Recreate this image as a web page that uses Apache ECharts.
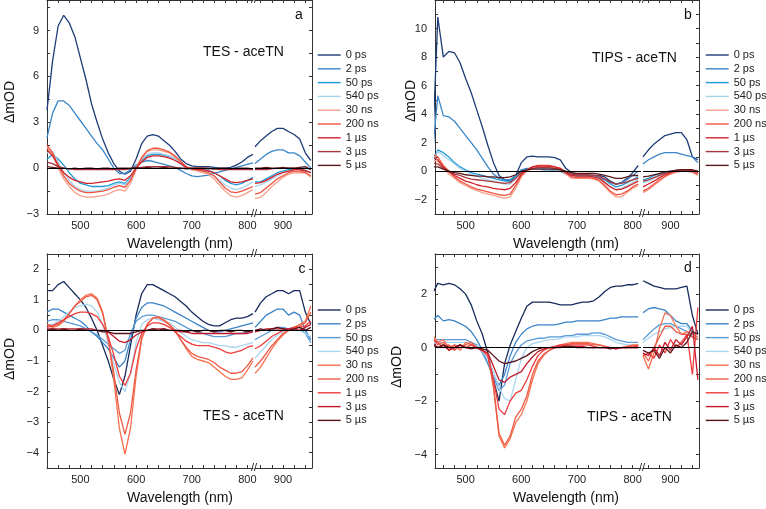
<!DOCTYPE html>
<html>
<head>
<meta charset="utf-8">
<script src="https://cdn.jsdelivr.net/npm/echarts@6.0.0/dist/echarts.min.js"></script>
<style>
  html, body { margin: 0; padding: 0; background: #fff; }
  #chart { width: 766px; height: 509px; }
</style>
</head>
<body>
<div id="chart"></div>
<script>
// ------------------------------------------------------------
// Data
// ------------------------------------------------------------

// wavelengths (nm) of the visible part and of the near-IR part (after the axis break)
var wlLeft = [440, 450, 460, 470, 480, 490, 500, 510, 520, 530, 540, 550, 560, 570, 580, 590, 600, 610, 620,
  630, 640, 650, 660, 670, 680, 690, 700, 710, 720, 730, 740, 750, 760, 770, 780, 790, 800, 810];
var wlRight = [850, 860, 870, 880, 890, 900, 910, 920, 930, 940, 950];

var delays = ["0 ps", "2 ps", "50 ps", "540 ps", "30 ns", "200 ns", "1 \u00b5s", "3 \u00b5s", "5 \u00b5s"];

// tick labels
var xLabelsLeft = [500, 600, 700, 800];
var xLabelsRight = [900];
var yLabelsA = [-3, 0, 3, 6, 9];
var yLabelsB = [-2, 0, 2, 4, 6, 8, 10];
var yLabelsC = [-4, -3, -2, -1, 0, 1, 2];
var yLabelsD = [-4, -2, 0, 2];

// panel a : TES - aceTN (one row per delay)
var aLeft = [
  [3.8, 7.0, 9.3, 10.0, 9.5, 8.6, 7.2, 5.8, 4.2, 3.0, 1.9, 1.0, 0.3, -0.2, -0.4, -0.2, 0.6, 1.6, 2.1, 2.2, 2.1, 1.8, 1.5, 1.1, 0.6, 0.3, 0.15, 0.1, 0.1, 0.1, 0.05, 0.0, 0.0, 0.05, 0.2, 0.4, 0.7, 0.9],
  [2.0, 3.6, 4.4, 4.4, 4.1, 3.6, 3.1, 2.6, 2.1, 1.6, 1.2, 0.6, 0.0, -0.35, -0.35, -0.1, 0.2, 0.4, 0.5, 0.45, 0.35, 0.25, 0.15, 0.05, -0.15, -0.35, -0.5, -0.55, -0.5, -0.45, -0.35, -0.25, -0.15, -0.05, 0.05, 0.15, 0.25, 0.35],
  [0.6, 0.9, 0.6, 0.2, -0.3, -0.7, -1.0, -1.1, -1.2, -1.2, -1.2, -1.15, -1.0, -0.9, -1.0, -0.6, 0.0, 0.5, 0.8, 0.9, 0.9, 0.85, 0.75, 0.6, 0.3, 0.0, -0.1, -0.1, -0.1, -0.15, -0.3, -0.5, -0.8, -1.0, -1.1, -1.0, -0.8, -0.6],
  [1.0, 1.1, 0.4, -0.3, -0.8, -1.2, -1.4, -1.5, -1.5, -1.5, -1.4, -1.3, -1.1, -1.0, -1.1, -0.7, 0.1, 0.6, 0.9, 1.0, 1.0, 0.9, 0.8, 0.6, 0.3, 0.05, -0.1, -0.15, -0.2, -0.3, -0.5, -0.8, -1.1, -1.3, -1.4, -1.3, -1.1, -0.9],
  [1.4, 0.9, 0.0, -0.7, -1.2, -1.6, -1.8, -1.9, -1.9, -1.85, -1.8, -1.7, -1.5, -1.4, -1.5, -1.0, -0.1, 0.6, 1.1, 1.2, 1.2, 1.1, 1.0, 0.7, 0.4, 0.05, -0.1, -0.2, -0.3, -0.4, -0.7, -1.1, -1.5, -1.8, -1.9, -1.8, -1.6, -1.4],
  [1.5, 1.0, 0.2, -0.5, -1.0, -1.3, -1.5, -1.6, -1.6, -1.55, -1.5, -1.4, -1.25, -1.15, -1.25, -0.8, 0.0, 0.7, 1.15, 1.3, 1.3, 1.2, 1.05, 0.8, 0.45, 0.1, -0.05, -0.1, -0.2, -0.3, -0.5, -0.9, -1.3, -1.55, -1.6, -1.5, -1.35, -1.2],
  [1.2, 0.8, 0.2, -0.3, -0.6, -0.8, -0.9, -1.0, -1.0, -0.95, -0.9, -0.85, -0.75, -0.7, -0.8, -0.5, 0.0, 0.4, 0.7, 0.8, 0.8, 0.75, 0.65, 0.5, 0.3, 0.05, -0.05, -0.1, -0.1, -0.2, -0.3, -0.5, -0.7, -0.9, -0.95, -0.9, -0.8, -0.7],
  [0.4, 0.3, 0.1, 0.0, -0.05, -0.1, -0.1, -0.1, -0.1, -0.1, -0.1, -0.1, -0.1, -0.1, -0.1, -0.05, 0.0, 0.05, 0.1, 0.1, 0.1, 0.1, 0.1, 0.05, 0.0, 0.0, 0.0, 0.0, 0.0, -0.05, -0.05, -0.1, -0.1, -0.1, -0.1, -0.1, -0.1, -0.1],
  [0.1, 0.05, 0.0, 0.0, -0.05, 0.0, -0.05, 0.0, 0.0, -0.05, 0.0, 0.0, -0.05, 0.0, 0.0, 0.0, 0.05, 0.0, 0.05, 0.0, 0.0, 0.05, 0.0, 0.0, 0.0, -0.05, 0.0, 0.0, 0.0, 0.0, -0.05, 0.0, 0.0, -0.05, 0.0, 0.0, 0.0, -0.05]
];
var aRight = [
  [1.4, 1.8, 2.1, 2.4, 2.6, 2.6, 2.4, 2.2, 1.9, 1.0, 0.5],
  [0.3, 0.6, 0.9, 1.1, 1.2, 1.2, 1.0, 1.0, 0.8, 0.4, 0.0],
  [-0.9, -0.9, -0.7, -0.5, -0.3, -0.2, -0.1, -0.1, 0.0, 0.0, -0.1],
  [-1.2, -1.1, -0.9, -0.7, -0.5, -0.3, -0.2, -0.1, -0.05, 0.0, -0.1],
  [-2.0, -1.9, -1.6, -1.2, -0.9, -0.6, -0.4, -0.3, -0.3, -0.3, -0.6],
  [-1.7, -1.6, -1.3, -1.0, -0.7, -0.5, -0.3, -0.2, -0.2, -0.3, -0.5],
  [-1.0, -0.95, -0.8, -0.6, -0.4, -0.3, -0.2, -0.1, -0.1, -0.2, -0.3],
  [-0.1, -0.1, -0.1, -0.05, 0.0, 0.0, 0.0, 0.0, -0.05, -0.15, -0.3],
  [0.0, 0.0, 0.05, 0.0, 0.0, 0.05, 0.0, 0.0, 0.05, 0.1, -0.1]
];

// panel b : TIPS - aceTN
var bLeft = [
  [1.0, 10.8, 8.0, 8.4, 8.3, 7.6, 6.5, 5.5, 4.3, 3.1, 1.8, 0.6, -0.3, -0.6, -0.7, -0.3, 0.6, 1.0, 1.05, 1.0, 1.0, 1.0, 0.95, 0.8, 0.2, -0.1, -0.25, -0.3, -0.3, -0.3, -0.3, -0.4, -0.7, -0.9, -0.8, -0.5, -0.1, 0.4],
  [1.0, 5.3, 3.9, 3.8, 3.5, 3.0, 2.5, 2.0, 1.5, 0.9, 0.3, -0.2, -0.5, -0.6, -0.6, -0.3, 0.1, 0.2, 0.2, 0.15, 0.1, 0.1, 0.05, 0.0, -0.2, -0.3, -0.4, -0.4, -0.4, -0.4, -0.5, -0.6, -0.8, -0.9, -0.8, -0.6, -0.3, 0.0],
  [0.5, 1.5, 1.3, 1.0, 0.6, 0.3, 0.1, -0.1, -0.2, -0.3, -0.4, -0.5, -0.6, -0.7, -0.7, -0.4, 0.0, 0.15, 0.2, 0.2, 0.2, 0.2, 0.15, 0.1, -0.1, -0.3, -0.35, -0.3, -0.3, -0.3, -0.4, -0.6, -0.9, -1.1, -1.0, -0.8, -0.6, -0.4],
  [0.6, 1.4, 1.1, 0.8, 0.5, 0.2, 0.0, -0.2, -0.35, -0.5, -0.6, -0.7, -0.8, -0.9, -0.9, -0.5, -0.1, 0.1, 0.15, 0.15, 0.15, 0.15, 0.1, 0.05, -0.15, -0.35, -0.4, -0.4, -0.4, -0.45, -0.5, -0.8, -1.1, -1.3, -1.2, -1.0, -0.8, -0.6],
  [0.8, 0.7, 0.2, -0.2, -0.5, -0.8, -1.0, -1.2, -1.35, -1.5, -1.6, -1.7, -1.8, -1.9, -1.8, -1.2, -0.4, 0.0, 0.2, 0.3, 0.3, 0.3, 0.2, 0.1, -0.2, -0.5, -0.5, -0.5, -0.5, -0.55, -0.7, -1.1, -1.5, -1.8, -1.8, -1.5, -1.2, -1.0],
  [1.2, 1.0, 0.4, 0.0, -0.4, -0.7, -0.9, -1.1, -1.25, -1.35, -1.45, -1.55, -1.65, -1.7, -1.6, -1.0, -0.3, 0.1, 0.3, 0.4, 0.4, 0.4, 0.3, 0.2, -0.1, -0.4, -0.45, -0.45, -0.45, -0.5, -0.65, -1.0, -1.4, -1.65, -1.6, -1.4, -1.1, -0.9],
  [1.0, 0.8, 0.3, -0.05, -0.3, -0.5, -0.7, -0.8, -0.95, -1.05, -1.1, -1.2, -1.25, -1.3, -1.2, -0.8, -0.2, 0.1, 0.3, 0.35, 0.35, 0.35, 0.3, 0.2, -0.1, -0.3, -0.35, -0.35, -0.35, -0.4, -0.5, -0.8, -1.1, -1.3, -1.25, -1.1, -0.9, -0.7],
  [0.6, 0.5, 0.2, 0.0, -0.2, -0.3, -0.45, -0.55, -0.6, -0.65, -0.7, -0.75, -0.8, -0.85, -0.8, -0.5, -0.1, 0.1, 0.2, 0.25, 0.25, 0.25, 0.2, 0.15, -0.05, -0.2, -0.25, -0.25, -0.25, -0.3, -0.35, -0.55, -0.75, -0.9, -0.85, -0.75, -0.6, -0.5],
  [0.3, 0.3, 0.15, 0.0, -0.1, -0.15, -0.25, -0.3, -0.35, -0.35, -0.4, -0.4, -0.45, -0.45, -0.4, -0.25, 0.0, 0.1, 0.15, 0.15, 0.15, 0.15, 0.15, 0.1, 0.0, -0.1, -0.15, -0.15, -0.15, -0.15, -0.2, -0.3, -0.4, -0.5, -0.5, -0.4, -0.3, -0.3]
];
var bRight = [
  [1.0, 1.5, 1.9, 2.2, 2.5, 2.6, 2.7, 2.7, 2.2, 1.0, 0.8],
  [0.5, 0.8, 1.0, 1.2, 1.3, 1.3, 1.3, 1.2, 1.1, 1.0, 0.6],
  [-0.6, -0.5, -0.3, -0.2, -0.1, 0.0, 0.05, 0.05, 0.0, -0.05, -0.2],
  [-0.8, -0.7, -0.5, -0.3, -0.15, -0.05, 0.0, 0.0, 0.0, -0.1, -0.2],
  [-1.5, -1.3, -1.0, -0.7, -0.4, -0.2, -0.1, 0.0, 0.0, -0.1, -0.3],
  [-1.4, -1.2, -0.9, -0.6, -0.35, -0.15, 0.0, 0.05, 0.05, 0.0, -0.2],
  [-1.1, -0.9, -0.7, -0.45, -0.25, -0.1, 0.05, 0.1, 0.1, 0.05, -0.1],
  [-0.7, -0.6, -0.45, -0.3, -0.15, -0.05, 0.05, 0.1, 0.1, 0.05, 0.0],
  [-0.4, -0.35, -0.25, -0.15, -0.05, 0.0, 0.05, 0.1, 0.1, 0.1, 0.0]
];

// panel c : TES - aceTN
var cLeft = [
  [1.3, 1.3, 1.5, 1.6, 1.4, 1.2, 1.0, 0.75, 0.4, 0.0, -0.5, -1.0, -1.6, -2.1, -1.5, -0.5, 0.5, 1.2, 1.5, 1.5, 1.4, 1.3, 1.2, 1.1, 0.95, 0.8, 0.6, 0.45, 0.3, 0.2, 0.15, 0.15, 0.25, 0.35, 0.4, 0.4, 0.45, 0.55],
  [0.6, 0.7, 0.7, 0.6, 0.5, 0.4, 0.3, 0.15, -0.05, -0.2, -0.4, -0.6, -0.9, -1.2, -1.0, -0.3, 0.4, 0.75, 0.9, 0.9, 0.85, 0.8, 0.7, 0.6, 0.5, 0.4, 0.3, 0.2, 0.1, 0.0, -0.05, -0.05, 0.0, 0.05, 0.1, 0.15, 0.2, 0.25],
  [0.3, 0.35, 0.35, 0.3, 0.25, 0.2, 0.15, 0.05, -0.05, -0.15, -0.3, -0.45, -0.6, -0.75, -0.65, -0.1, 0.3, 0.45, 0.5, 0.5, 0.45, 0.4, 0.35, 0.3, 0.2, 0.1, 0.0, -0.05, -0.1, -0.15, -0.2, -0.2, -0.2, -0.15, -0.1, -0.1, -0.05, 0.0],
  [0.2, 0.2, 0.3, 0.45, 0.6, 0.75, 0.8, 0.85, 0.8, 0.6, 0.2, -0.4, -1.1, -1.7, -2.0, -1.4, -0.4, 0.2, 0.35, 0.4, 0.35, 0.3, 0.25, 0.1, -0.05, -0.2, -0.3, -0.35, -0.4, -0.4, -0.45, -0.5, -0.5, -0.55, -0.55, -0.5, -0.45, -0.4],
  [0.2, 0.1, 0.15, 0.3, 0.55, 0.8, 1.0, 1.15, 1.2, 1.05, 0.6, -0.3, -1.6, -3.2, -4.05, -3.2, -1.5, -0.3, 0.2, 0.4, 0.45, 0.35, 0.2, 0.0, -0.3, -0.6, -0.85, -0.95, -1.0, -1.05, -1.2, -1.35, -1.5, -1.6, -1.6, -1.55, -1.3, -1.0],
  [0.2, 0.15, 0.2, 0.35, 0.55, 0.8, 0.95, 1.1, 1.15, 1.0, 0.55, -0.3, -1.4, -2.7, -3.4, -2.7, -1.3, -0.25, 0.2, 0.4, 0.42, 0.32, 0.18, 0.0, -0.3, -0.55, -0.75, -0.85, -0.9, -0.95, -1.05, -1.2, -1.3, -1.4, -1.4, -1.35, -1.15, -0.9],
  [0.1, 0.15, 0.25, 0.35, 0.45, 0.55, 0.6, 0.6, 0.55, 0.45, 0.2, -0.2, -0.8, -1.5, -1.8, -1.4, -0.6, -0.1, 0.15, 0.25, 0.25, 0.2, 0.1, -0.05, -0.2, -0.35, -0.45, -0.5, -0.5, -0.5, -0.55, -0.6, -0.7, -0.75, -0.7, -0.65, -0.55, -0.5],
  [0.05, 0.05, 0.05, 0.05, 0.05, 0.05, 0.05, 0.05, 0.05, 0.0, 0.0, -0.05, -0.2, -0.35, -0.4, -0.3, -0.15, -0.05, 0.0, 0.05, 0.05, 0.05, 0.0, 0.0, -0.05, -0.05, -0.1, -0.1, -0.1, -0.1, -0.1, -0.1, -0.1, -0.1, -0.1, -0.1, -0.1, -0.05],
  [0.0, 0.05, 0.0, 0.05, 0.0, 0.0, 0.05, 0.0, 0.0, 0.0, -0.05, -0.05, -0.1, -0.1, -0.1, -0.1, -0.05, 0.0, 0.0, 0.05, 0.0, 0.05, 0.0, 0.0, 0.0, -0.05, 0.0, -0.05, 0.0, 0.0, -0.05, 0.0, 0.0, -0.05, 0.0, 0.0, -0.05, 0.0]
];
var cRight = [
  [0.6, 0.9, 1.1, 1.2, 1.3, 1.3, 1.2, 1.3, 1.3, 0.6, 0.2],
  [0.1, 0.3, 0.5, 0.6, 0.7, 0.7, 0.5, 0.6, 0.5, 0.0, -0.3],
  [-0.3, -0.2, -0.1, 0.0, 0.1, 0.1, 0.05, 0.1, 0.1, -0.1, -0.4],
  [-0.9, -0.7, -0.5, -0.3, -0.15, -0.05, 0.0, 0.05, 0.0, -0.1, -0.2],
  [-1.4, -1.2, -0.9, -0.6, -0.35, -0.15, 0.0, 0.1, 0.2, 0.3, 0.8],
  [-1.2, -1.0, -0.75, -0.5, -0.3, -0.1, 0.0, 0.1, 0.15, 0.25, 0.6],
  [-0.6, -0.5, -0.35, -0.2, -0.1, 0.0, 0.05, 0.1, 0.1, 0.15, 0.3],
  [-0.05, 0.0, 0.05, 0.05, 0.05, 0.05, 0.05, 0.05, 0.0, 0.1, 0.2],
  [0.0, 0.05, 0.0, 0.05, 0.1, 0.05, 0.0, 0.05, 0.1, 0.0, 0.1]
];

// panel d : TIPS - aceTN
var dLeft = [
  [2.0, 2.4, 2.35, 2.4, 2.35, 2.2, 2.0, 1.6, 1.0, 0.5, -0.2, -1.2, -2.0, -0.6, 0.1, 0.6, 1.1, 1.55, 1.7, 1.7, 1.7, 1.7, 1.65, 1.6, 1.6, 1.6, 1.65, 1.7, 1.7, 1.75, 1.9, 2.1, 2.25, 2.3, 2.3, 2.35, 2.35, 2.4],
  [1.0, 1.2, 1.0, 1.05, 1.0, 0.9, 0.8, 0.6, 0.3, -0.1, -0.6, -1.1, -1.4, -1.0, -0.3, 0.2, 0.5, 0.7, 0.8, 0.85, 0.85, 0.85, 0.85, 0.9, 0.95, 0.95, 1.0, 1.0, 1.0, 1.0, 1.0, 1.05, 1.1, 1.1, 1.15, 1.15, 1.15, 1.15],
  [0.2, 0.3, 0.3, 0.3, 0.3, 0.3, 0.3, 0.2, 0.1, -0.2, -0.6, -1.1, -1.6, -1.4, -0.6, -0.2, 0.1, 0.25, 0.3, 0.35, 0.35, 0.4, 0.4, 0.4, 0.45, 0.45, 0.5, 0.5, 0.5, 0.55, 0.55, 0.5, 0.4, 0.3, 0.25, 0.2, 0.2, 0.2],
  [0.1, 0.2, 0.2, 0.2, 0.2, 0.2, 0.2, 0.15, 0.05, -0.15, -0.4, -0.9, -1.5, -1.9, -2.0, -1.2, -0.4, 0.0, 0.15, 0.2, 0.25, 0.3, 0.3, 0.35, 0.4, 0.4, 0.4, 0.45, 0.45, 0.45, 0.45, 0.4, 0.3, 0.2, 0.15, 0.1, 0.1, 0.1],
  [0.5, 0.2, 0.3, 0.0, 0.1, -0.1, 0.2, 0.1, 0.0, -0.1, -0.3, -1.5, -3.3, -3.75, -3.4, -2.8, -2.5, -2.0, -1.2, -0.6, -0.3, -0.1, 0.0, 0.1, 0.15, 0.2, 0.2, 0.2, 0.2, 0.15, 0.1, 0.05, 0.0, 0.0, 0.0, 0.05, 0.1, 0.1],
  [0.4, 0.1, 0.2, -0.1, 0.1, 0.0, 0.1, 0.2, 0.0, -0.1, -0.3, -1.4, -3.2, -3.65, -3.3, -2.6, -2.3, -1.8, -1.0, -0.5, -0.25, -0.1, 0.0, 0.05, 0.1, 0.15, 0.15, 0.15, 0.15, 0.1, 0.1, 0.05, 0.0, 0.0, 0.0, 0.05, 0.05, 0.1],
  [0.3, 0.2, 0.0, 0.1, -0.1, 0.1, 0.0, 0.1, 0.0, -0.1, -0.3, -1.2, -2.3, -2.5, -2.0, -1.7, -1.6, -1.2, -0.7, -0.3, -0.1, 0.0, 0.05, 0.1, 0.1, 0.1, 0.1, 0.1, 0.1, 0.05, 0.0, 0.0, 0.0, -0.05, 0.0, 0.0, 0.05, 0.05],
  [0.2, 0.0, 0.1, -0.1, 0.0, 0.1, 0.0, 0.0, 0.0, -0.1, -0.2, -0.7, -1.2, -1.3, -1.1, -1.0, -0.9, -0.6, -0.35, -0.15, -0.05, 0.0, 0.0, 0.05, 0.05, 0.05, 0.05, 0.05, 0.0, 0.0, 0.0, 0.0, 0.0, -0.05, 0.0, 0.0, 0.0, 0.0],
  [0.1, 0.0, 0.1, 0.0, 0.0, 0.1, 0.0, -0.05, 0.0, -0.05, -0.1, -0.3, -0.5, -0.6, -0.55, -0.5, -0.4, -0.3, -0.15, -0.05, 0.0, 0.0, 0.0, 0.0, 0.05, 0.05, 0.0, 0.0, 0.0, 0.0, 0.0, 0.0, -0.05, 0.0, 0.0, 0.0, 0.0, 0.0]
];
var dRight = [
  [2.5, 2.4, 2.3, 2.25, 2.2, 2.2, 2.2, 2.25, 2.3, 1.2, 0.5],
  [1.3, 1.45, 1.5, 1.45, 1.4, 1.2, 1.0, 0.9, 0.9, 0.6, 0.3],
  [0.3, 0.5, 0.7, 0.85, 0.9, 0.9, 0.8, 0.7, 0.6, 0.4, 0.3],
  [0.2, 0.35, 0.5, 0.6, 0.7, 0.75, 0.8, 0.8, 0.8, 0.5, 0.3],
  [-0.3, -0.8, -0.2, 0.7, 1.3, 1.2, 0.8, 0.5, 0.6, 0.5, 0.4],
  [-0.2, -0.5, 0.0, 0.4, 0.8, 0.8, 0.6, 0.5, 0.5, 0.4, 0.3],
  [-0.3, -0.2, -0.4, 0.1, -0.2, 0.3, 0.0, 0.2, 0.5, -1.0, 1.5],
  [-0.2, -0.3, 0.0, -0.3, 0.2, -0.1, 0.3, 0.1, 0.4, 0.8, -1.2],
  [-0.1, -0.2, -0.1, -0.4, 0.0, -0.2, 0.1, 0.0, 0.2, 0.6, 0.5]
];

// ------------------------------------------------------------
// Styling
// ------------------------------------------------------------

var FONT = "'Liberation Sans', Arial, sans-serif";
var AXIS_COLOR = "#333";

var colorsTop = ["#1d3c78", "#3b86c8", "#1f9bd7", "#a5d3ec", "#f7a08b", "#f0533f", "#d2232a", "#a9363a", "#5d1a1c"];
var colorsBottom = ["#172c5e", "#3a83c6", "#5a9ad6", "#aad6ef", "#f7704f", "#ec5b47", "#ef3c3c", "#c3192b", "#5a1118"];

var panels = [
  { left: aLeft, right: aRight, colors: colorsTop, yMin: -3, yMax: 11, yLabels: yLabelsA, xMin: 440, xMax: 810,
    gL: [47, 0, 206, 214], gR: [255, 0, 57, 214], legend: [317, 49], breakX: 254,
    tag: "TES - aceTN", tagPos: [203, 52], letter: "a", letterPos: [299, 15], yName: [10, 102], xName: [180, 244] },
  { left: bLeft, right: bRight, colors: colorsTop, yMin: -3, yMax: 12, yLabels: yLabelsB, xMin: 445, xMax: 815,
    gL: [435, 0, 206, 214], gR: [643, 0, 56, 214], legend: [705, 49], breakX: 642,
    tag: "TIPS - aceTN", tagPos: [592, 58], letter: "b", letterPos: [688, 15], yName: [411, 101], xName: [566, 244] },
  { left: cLeft, right: cRight, colors: colorsBottom, yMin: -4.5, yMax: 2.5, yLabels: yLabelsC, xMin: 440, xMax: 810,
    gL: [47, 254, 206, 214], gR: [255, 254, 57, 214], legend: [317, 304], breakX: 254,
    tag: "TES - aceTN", tagPos: [203, 416], letter: "c", letterPos: [302, 269], yName: [10, 359], xName: [180, 498] },
  { left: dLeft, right: dRight, colors: colorsBottom, yMin: -4.5, yMax: 3.5, yLabels: yLabelsD, xMin: 445, xMax: 815,
    gL: [435, 254, 206, 214], gR: [643, 254, 56, 214], legend: [705, 304], breakX: 642,
    tag: "TIPS - aceTN", tagPos: [587, 417], letter: "d", letterPos: [688, 268], yName: [397, 367], xName: [566, 498] }
];

// tick positions between two limits with a fixed step
function stepTicks(from, to, step) {
  var out = [];
  var v = Math.ceil(from / step) * step;
  for (; v <= to + 1e-9; v += step) out.push(Math.round(v * 100) / 100);
  return out;
}

function xAxisFor(gridIndex, min, max, labels, position) {
  return {
    type: "value",
    gridIndex: gridIndex,
    position: position,
    min: min,
    max: max,
    axisLine: { show: true, onZero: false, lineStyle: { color: AXIS_COLOR, width: 1 } },
    axisTick: { show: true, inside: true, length: 3, customValues: stepTicks(min, max, 20), lineStyle: { color: AXIS_COLOR } },
    axisLabel: {
      show: position === "bottom",
      customValues: labels,
      margin: 6,
      fontSize: 11,
      color: "#222",
      fontFamily: FONT
    },
    splitLine: { show: false }
  };
}

// ------------------------------------------------------------
// Build options
// ------------------------------------------------------------

var grids = [], xAxes = [], yAxes = [], series = [], legends = [], graphics = [];

panels.forEach(function (p) {
  var step = p.yLabels[1] - p.yLabels[0];

  [0, 1].forEach(function (side) {
    var box = side ? p.gR : p.gL;
    var g = grids.length;
    grids.push({ left: box[0], top: box[1], width: box[2], height: box[3] });

    var xmin = side ? 850 : p.xMin;
    var xmax = side ? 952 : p.xMax;
    var xLabels = side ? xLabelsRight : xLabelsLeft;
    xAxes.push(xAxisFor(g, xmin, xmax, xLabels, "bottom"));
    var xi = xAxes.length - 1;
    xAxes.push(xAxisFor(g, xmin, xmax, xLabels, "top"));

    yAxes.push({
      type: "value",
      gridIndex: g,
      position: side ? "right" : "left",
      min: p.yMin,
      max: p.yMax,
      axisLine: { show: true, onZero: false, lineStyle: { color: AXIS_COLOR, width: 1 } },
      axisTick: { show: true, inside: true, length: 3, customValues: stepTicks(p.yMin, p.yMax, step / 2), lineStyle: { color: AXIS_COLOR } },
      axisLabel: {
        show: !side,
        customValues: p.yLabels,
        margin: 8,
        fontSize: 11,
        color: "#222",
        fontFamily: FONT,
        formatter: function (v) { return v < 0 ? "\u2212" + Math.abs(v) : String(v); }
      },
      splitLine: { show: false }
    });
    var yi = yAxes.length - 1;

    var wl = side ? wlRight : wlLeft;
    var rows = side ? p.right : p.left;
    rows.forEach(function (vals, k) {
      var s = {
        name: delays[k],
        type: "line",
        xAxisIndex: xi,
        yAxisIndex: yi,
        data: wl.map(function (w, i) { return [w, vals[i]]; }),
        symbol: "none",
        clip: true,
        lineStyle: { width: 1.3, color: p.colors[k] },
        itemStyle: { color: p.colors[k] },
        emphasis: { disabled: true },
        animation: false
      };
      if (k === 0) {
        s.markLine = {
          silent: true,
          symbol: "none",
          label: { show: false },
          lineStyle: { color: "#000", width: 1, type: "solid" },
          data: [{ yAxis: 0 }],
          animation: false
        };
      }
      series.push(s);
    });
  });

  legends.push({
    orient: "vertical",
    left: p.legend[0],
    top: p.legend[1],
    itemWidth: 23,
    itemHeight: 12,
    itemGap: 1.8,
    padding: 0,
    selectedMode: false,
    textStyle: { fontSize: 11, color: "#222", fontFamily: FONT, lineHeight: 12 },
    data: delays.map(function (n, k) {
      return { name: n, itemStyle: { color: p.colors[k], opacity: 0 }, lineStyle: { color: p.colors[k], width: 1.4, opacity: 1 } };
    })
  });

  // annotations
  graphics.push({ type: "text", x: p.tagPos[0], y: p.tagPos[1],
    style: { text: p.tag, font: "14px " + FONT, fill: "#111", align: "left", verticalAlign: "middle" } });
  graphics.push({ type: "text", x: p.letterPos[0], y: p.letterPos[1],
    style: { text: p.letter, font: "14px " + FONT, fill: "#111", align: "center", verticalAlign: "middle" } });
  graphics.push({ type: "text", x: p.yName[0], y: p.yName[1], rotation: Math.PI / 2,
    style: { text: "\u0394mOD", font: "14px " + FONT, fill: "#111", align: "center", verticalAlign: "middle" } });
  graphics.push({ type: "text", x: p.xName[0], y: p.xName[1],
    style: { text: "Wavelength (nm)", font: "14px " + FONT, fill: "#111", align: "center", verticalAlign: "middle" } });
  // axis break marks
  [p.gL[1], p.gL[1] + p.gL[3]].forEach(function (yy) {
    graphics.push({ type: "text", x: p.breakX, y: yy, z: 100,
      style: { text: "//", font: "11px " + FONT, fill: "#222", align: "center", verticalAlign: "middle" } });
  });
});

var chart = echarts.init(document.getElementById("chart"));
chart.setOption({
  backgroundColor: "#fff",
  animation: false,
  textStyle: { fontFamily: FONT },
  grid: grids,
  xAxis: xAxes,
  yAxis: yAxes,
  legend: legends,
  series: series,
  graphic: graphics
});
</script>
</body>
</html>
